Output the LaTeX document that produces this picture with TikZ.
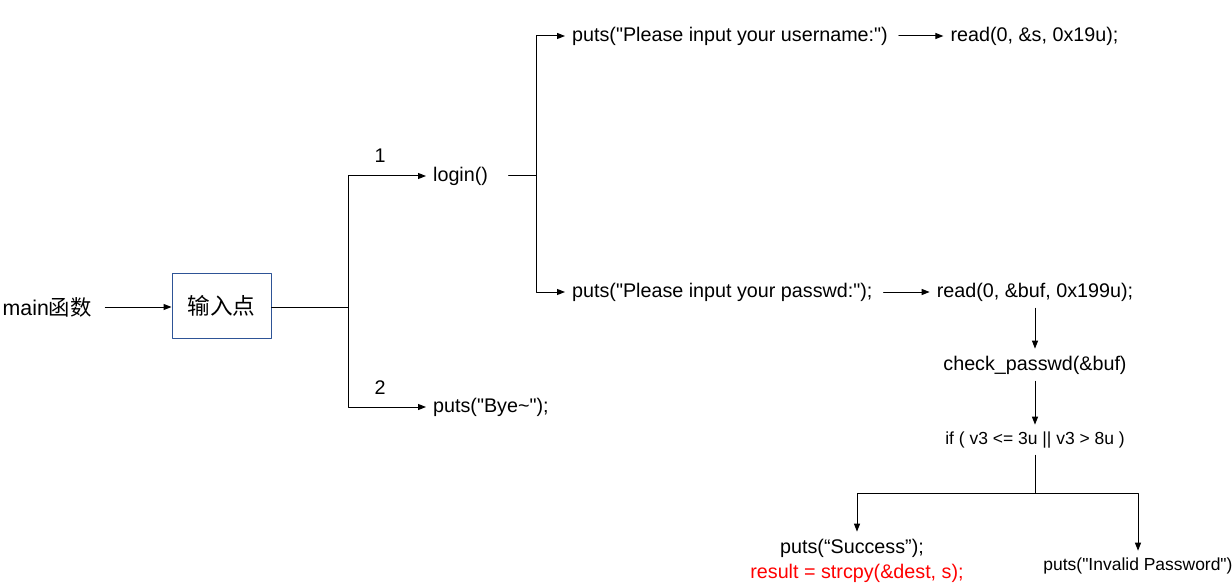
\documentclass[tikz,border=0pt]{standalone}
\usepackage{fontspec}
\setmainfont{Liberation Sans}[Ligatures=TeXOff]
\newfontfamily\cjk{Noto Sans CJK SC}
\usetikzlibrary{arrows.meta}
\definecolor{ffqqqq}{rgb}{1.,0.,0.}
\definecolor{ttuubf}{rgb}{0.18,0.33,0.59}

\begin{document}
\begin{tikzpicture}[line cap=round,line join=round,>={Triangle[length=6pt,width=4.5pt]},x=0.75pt,y=-0.75pt,line width=0.75pt,
  every node/.style={inner sep=5pt},font=\fontsize{14.8}{17}\selectfont,
  small/.style={font=\fontsize{13.1}{15}\selectfont}]
\useasboundingbox (0,0) rectangle (1232,588);
% left part
\node [anchor=west,font=\fontsize{16}{18}\selectfont] (main) at (-4.5,307) {main{\cjk 函数}};
\node [draw=ttuubf,minimum width=74.25pt,minimum height=48.75pt,font=\fontsize{17}{19}\cjk] (entry) at (221.5,305.5) {输入点};
\coordinate (fork) at (348,307);
\node [anchor=west] (login) at (426,176) {login()};
\node [anchor=west] (bye) at (426,407) {puts("Bye\textasciitilde");};
\node (one) at (380,156) {1};
\node (two) at (380,388) {2};
\draw [->,shorten <=5pt] (main) -- (entry.west |- fork);
\draw (entry.east |- fork) -- (fork);
\draw [->] (fork) |- (login);
\draw [->] (fork) |- (bye);
% login()
\coordinate (fork2) at (536,176);
\node [anchor=west] (user) at (565,36) {puts("Please input your username:")};
\node (reads) at (1034.5,36) {read(0, \&s, 0x19u);};
\node [anchor=west] (pass) at (565,292) {puts("Please input your passwd:");};
\node (readb) at (1035,292) {read(0, \&buf, 0x199u);};
\node (check) at (1035,365) {check\_passwd(\&buf)};
\node [small] (cond) at (1035,440) {if ( v3 <= 3u || v3 > 8u )};
\draw [shorten <=10pt] (login) -- (fork2);
\draw [->] (fork2) |- (user);
\draw [->] (fork2) |- (pass);
\draw [->,shorten <=3pt] (user) -- (reads);
\draw [->,shorten <=3pt] (pass) -- (readb);
\draw [->] (readb) -- (check);
\draw [->] (check) -- (cond);
% branches
\coordinate (fork3) at (1035,493);
\node (succ) at (852,548) {puts(“Success”);};
\node [text=ffqqqq,inner sep=0pt] (res) at (857,573) {result = strcpy(\&dest, s);};
\node [small] (inval) at (1138,566) {puts("Invalid Password")};
\draw (cond) -- (fork3);
\draw [->] (fork3) -| (succ.north -| res.north);
\draw [->] (fork3) -| (inval);
\end{tikzpicture}
\end{document}
